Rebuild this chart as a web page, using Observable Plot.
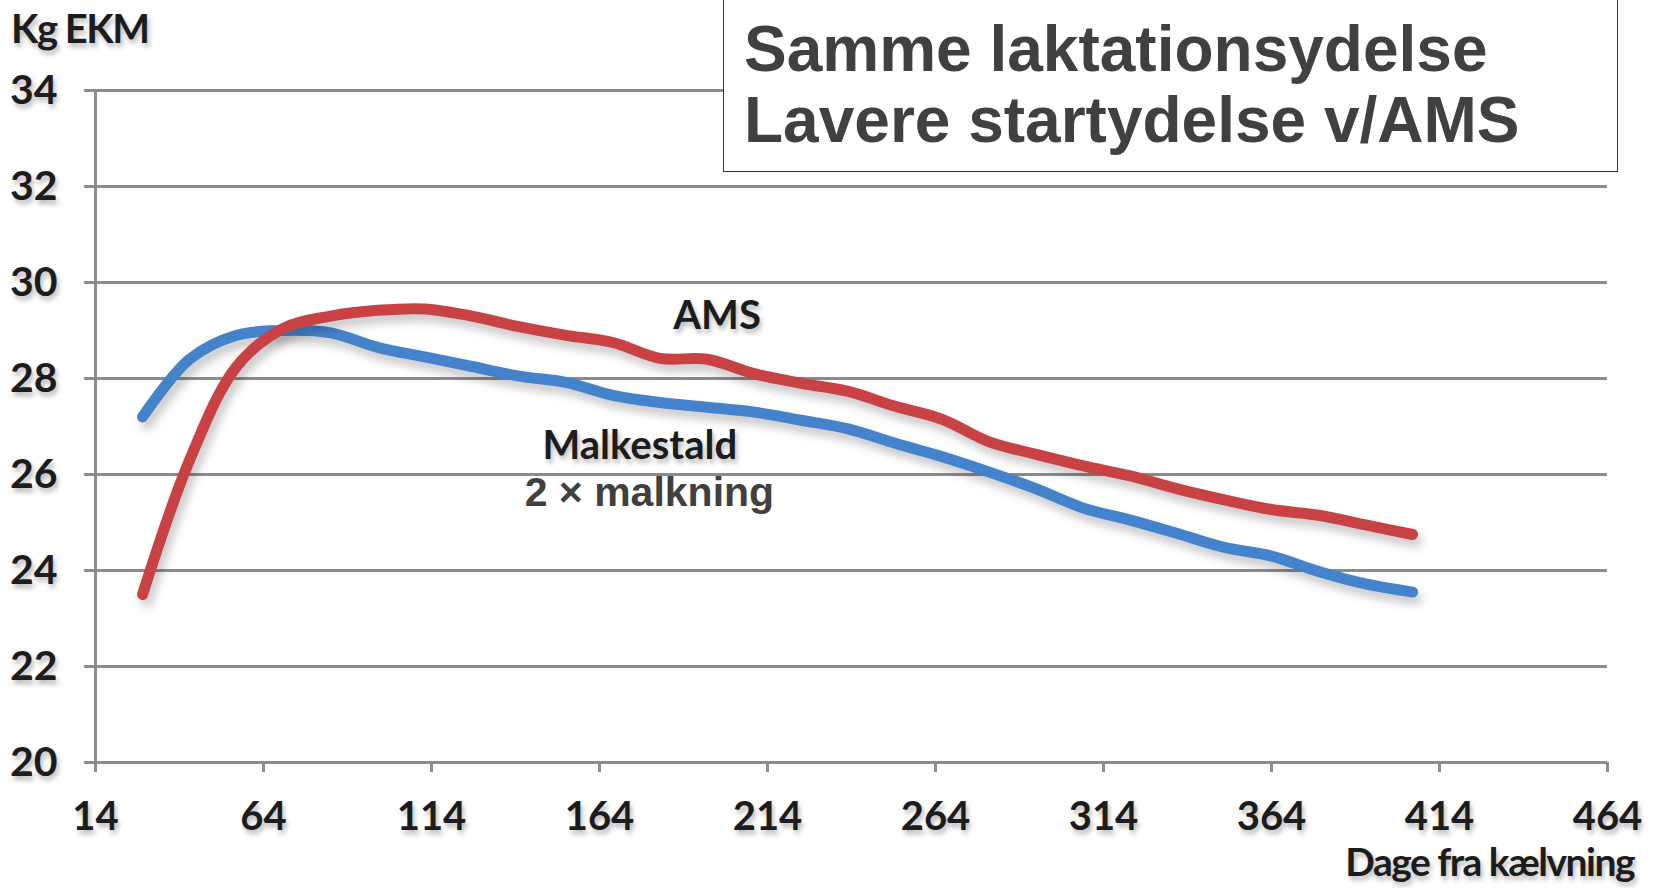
<!DOCTYPE html>
<html>
<head>
<meta charset="utf-8">
<script src="https://cdn.jsdelivr.net/npm/d3@7"></script>
<script src="https://cdn.jsdelivr.net/npm/@observablehq/plot@0.6"></script>
<style>
  body { margin: 0; background: #fff; }
  #wrap { position: relative; width: 1653px; height: 888px; overflow: hidden; background: #fff; }
  #wrap svg text { text-shadow: 2px 4px 5px rgba(0,0,0,0.28); }
  #wrap svg g[aria-label="line"] { filter: drop-shadow(4px 7px 5px rgba(0,0,0,0.22)); }
  .lbl { position: absolute; font-family: Lato, sans-serif; font-weight: 700; color: #1c1c1c;
         text-shadow: 2px 4px 5px rgba(0,0,0,0.28); white-space: nowrap; line-height: 0.8; }
  #box { position: absolute; left: 723px; top: -2px; width: 895px; height: 174px;
         border: 1.5px solid #333; background: #fff; box-sizing: border-box; }
  #box div { position: absolute; left: 20px; font-family: "Liberation Sans", Arial, sans-serif;
             font-weight: 700; font-size: 64px; line-height: 71px; color: #404040; white-space: nowrap; }
  #sub { position: absolute; font-family: "Liberation Sans", Arial, sans-serif; font-weight: 700;
         font-size: 41px; color: #404040; white-space: nowrap; line-height: 1; transform: translate(-50%, -50%); }
</style>
</head>
<body>
<div id="wrap"></div>
<script>
// Days from calving (14-day steps)
const days = [28, 42, 56, 70, 84, 98, 112, 126, 140, 154, 168, 182, 196, 210,
              224, 238, 252, 266, 280, 294, 308, 322, 336, 350, 364, 378, 392, 406];
// Malkestald, 2 x malkning (blue)
const malkestald = [27.2, 28.4, 28.9, 29.0, 28.95, 28.65, 28.45, 28.25, 28.05, 27.92, 27.65, 27.5, 27.4, 27.3,
                    27.13, 26.95, 26.65, 26.37, 26.05, 25.7, 25.3, 25.05, 24.77, 24.48, 24.3, 23.98, 23.72, 23.55];
// AMS (red)
const ams = [23.5, 26.3, 28.25, 29.05, 29.3, 29.42, 29.45, 29.3, 29.08, 28.9, 28.75, 28.42, 28.4, 28.1,
             27.9, 27.73, 27.42, 27.15, 26.68, 26.42, 26.18, 25.97, 25.7, 25.47, 25.27, 25.15, 24.95, 24.75];
const xTicks = [14, 64, 114, 164, 214, 264, 314, 364, 414, 464];
const yTicks = [20, 22, 24, 26, 28, 30, 32, 34];
const seriesLabels = [
  {text: "AMS", day: 199, kg: 29.3},
  {text: "Malkestald", day: 176, kg: 26.58}
];
const subLabel = {text: "2 × malkning", day: 179, kg: 25.62};
const yTitle = "Kg EKM";
const xTitle = "Dage fra kælvning";
const titleLines = ["Samme laktationsydelse", "Lavere startydelse v/AMS"];

const blueRows = days.map((d, i) => ({day: d, kg: malkestald[i]}));
const redRows = days.map((d, i) => ({day: d, kg: ams[i]}));

const grid = "#8c8c8c";
const font = {fontFamily: "Lato, sans-serif", fontWeight: 700};

const chart = Plot.plot({
  width: 1653,
  height: 888,
  marginLeft: 95,
  marginRight: 46,
  marginTop: 90,
  marginBottom: 126,
  x: {domain: [xTicks[0], xTicks[xTicks.length - 1]]},
  y: {domain: [yTicks[0], yTicks[yTicks.length - 1]]},
  style: {background: "transparent", fontFamily: "Lato, sans-serif", color: "#1c1c1c"},
  marks: [
    Plot.gridY(yTicks, {stroke: grid, strokeOpacity: 1, strokeWidth: 3}),
    Plot.ruleX([xTicks[0]], {stroke: grid, strokeWidth: 3}),
    Plot.axisY(yTicks, {tickSize: 11, tickPadding: 27, stroke: grid, strokeWidth: 3, fill: "#1c1c1c",
                        fontSize: 41, ...font, letterSpacing: "-1px", label: null}),
    Plot.axisX(xTicks, {tickSize: 10, tickPadding: 29, stroke: grid, strokeWidth: 3, fill: "#1c1c1c",
                        fontSize: 40, ...font, letterSpacing: "-1px", label: null}),
    Plot.line(blueRows, {x: "day", y: "kg", stroke: "#4483cc", strokeWidth: 11, curve: "catmull-rom",
                         strokeLinecap: "round", strokeLinejoin: "round"}),
    Plot.line(redRows, {x: "day", y: "kg", stroke: "#c84242", strokeWidth: 11, curve: "catmull-rom",
                        strokeLinecap: "round", strokeLinejoin: "round"}),
    Plot.text(seriesLabels, {x: "day", y: "kg", text: "text", fontSize: 40, ...font, fill: "#1c1c1c",
                             letterSpacing: "-1.5px"})
  ]
});

const wrap = document.getElementById("wrap");
wrap.appendChild(chart);

const yt = document.createElement("div");
yt.className = "lbl";
yt.style.cssText = "left:11px;top:12px;font-size:40px;letter-spacing:-1.5px;";
yt.textContent = yTitle;
wrap.appendChild(yt);

const xt = document.createElement("div");
xt.className = "lbl";
xt.style.cssText = "right:19px;top:846px;font-size:39px;letter-spacing:-1.5px;";
xt.textContent = xTitle;
wrap.appendChild(xt);

const sx = chart.scale("x"), sy = chart.scale("y");
const sub = document.createElement("div");
sub.id = "sub";
sub.style.left = sx.apply(subLabel.day) + "px";
sub.style.top = sy.apply(subLabel.kg) + "px";
sub.textContent = subLabel.text;
wrap.appendChild(sub);

const box = document.createElement("div");
box.id = "box";
titleLines.forEach((t, i) => {
  const d = document.createElement("div");
  d.style.top = (15 + i * 71) + "px";
  d.textContent = t;
  box.appendChild(d);
});
wrap.appendChild(box);
</script>
</body>
</html>
